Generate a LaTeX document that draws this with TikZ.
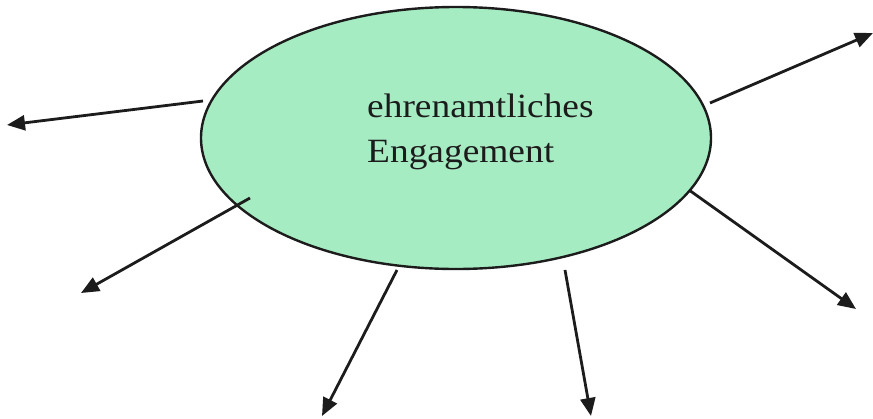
\documentclass[tikz,border=0pt]{standalone}
\usepackage{fontspec}
\setmainfont{Liberation Serif}
\newfontfamily\lblfont[FakeStretch=1.1]{Liberation Serif}
\usetikzlibrary{arrows.meta,shapes.geometric}
\definecolor{ellgreen}{RGB}{166,236,194}
\definecolor{inkc}{RGB}{28,28,28}
\begin{document}
\begin{tikzpicture}[x=1pt,y=-1pt,
  blob/.style={ellipse,draw=inkc,line width=2.4pt,fill=ellgreen,inner sep=0pt,minimum width=510pt,minimum height=262pt},
  label/.style={font=\lblfont\fontsize{34}{45}\selectfont,align=left,inner sep=0pt,text=inkc},
  ray/.style={draw=inkc,line width=2.8pt,-{Triangle[length=18pt,width=15pt]}}]
\useasboundingbox (0,0) rectangle (873,418);
\node[blob] (e) at (456,138) {};
\node[label,anchor=base west] (t) at (367,162) {ehrenamtliches\\Engagement};
\coordinate (s1) at (203,101);
\coordinate (p1) at (7,125);
\coordinate (s2) at (710,103);
\coordinate (p2) at (873,33);
\coordinate (s3) at (250,198);
\coordinate (p3) at (81,293);
\coordinate (s4) at (689,190);
\coordinate (p4) at (856,309);
\coordinate (s5) at (397,270);
\coordinate (p5) at (322,416);
\coordinate (s6) at (565,270);
\coordinate (p6) at (591,416);
\draw[ray] (s1) -- (p1);
\draw[ray] (s2) -- (p2);
\draw[ray] (s3) -- (p3);
\draw[ray] (s4) -- (p4);
\draw[ray] (s5) -- (p5);
\draw[ray] (s6) -- (p6);
\end{tikzpicture}
\end{document}
